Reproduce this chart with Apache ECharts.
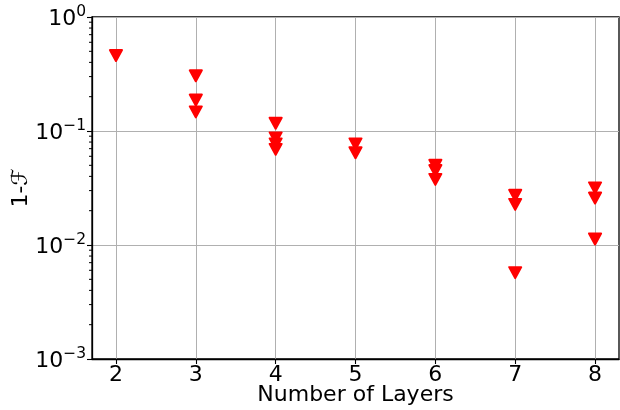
<!DOCTYPE html>
<html>
<head>
<meta charset="utf-8">
<script src="https://cdn.jsdelivr.net/npm/echarts@6/dist/echarts.min.js"></script>
<style>html,body{margin:0;padding:0;background:#fff}#c{width:620px;height:410px}</style>
</head>
<body>
<div id="c"></div>
<script>
// Data
const layers = [2, 3, 4, 5, 6, 7, 8];
const infidelity = {
  2: [0.459],
  3: [0.305, 0.187, 0.147],
  4: [0.117, 0.087, 0.077, 0.069],
  5: [0.077, 0.0645],
  6: [0.050, 0.045, 0.0376],
  7: [0.0273, 0.0227, 0.00572],
  8: [0.0317, 0.0258, 0.0113]
};
const xTicks = [2, 3, 4, 5, 6, 7, 8];
const yTicks = [0.001, 0.01, 0.1, 1];
const minorTickValues = [];
[0.001, 0.01, 0.1].forEach(function (d) {
  for (let k = 2; k <= 9; k++) minorTickValues.push(+(d * k).toPrecision(3));
});
const XMIN = 1.7, XMAX = 8.3;

const points = [];
layers.forEach(function (n) {
  infidelity[n].forEach(function (v) { points.push([n, v]); });
});

const chart = echarts.init(document.getElementById('c'), null, {renderer: 'canvas'});
const font = 'DejaVu Sans';
chart.setOption({
  animation: false,
  backgroundColor: '#fff',
  grid: {left: 92, right: 1, top: 17, bottom: 51, containLabel: false, outerBoundsMode: 'none',
         show: true, borderColor: '#000', borderWidth: 1.3, backgroundColor: 'transparent'},
  xAxis: {
    type: 'value', min: XMIN, max: XMAX,
    name: 'Number of Layers', nameLocation: 'middle', nameGap: 25, nameMoveOverlap: false,
    nameTextStyle: {fontFamily: font, fontSize: 22, color: '#000'},
    axisLine: {show: true, onZero: false, lineStyle: {color: '#000', width: 1.3}},
    axisTick: {show: true, length: 5, customValues: xTicks, lineStyle: {color: '#000', width: 1.1}},
    axisLabel: {customValues: xTicks, fontFamily: font, fontSize: 22, color: '#000', margin: 5},
    splitLine: {show: true, lineStyle: {color: '#b0b0b0', width: 1}}
  },
  yAxis: {
    type: 'log', logBase: 10, min: 0.001, max: 1,
    name: '1-ℱ', nameLocation: 'middle', nameGap: 60, nameRotate: 90, nameMoveOverlap: false,
    nameTextStyle: {fontFamily: font, fontSize: 22, color: '#000'},
    axisLine: {show: true, lineStyle: {color: '#000', width: 1.3}},
    axisTick: {show: true, length: 5, lineStyle: {color: '#000', width: 1.1}},
    splitLine: {show: true, lineStyle: {color: '#b0b0b0', width: 1}},
    axisLabel: {
      margin: 6,
      formatter: function (v) {
        const e = Math.round(Math.log10(v));
        return '{b|10}{s|' + (e < 0 ? '\u2212' + (-e) : e) + '}';
      },
      rich: {
        b: {fontFamily: font, fontSize: 22, color: '#000', lineHeight: 26, verticalAlign: 'bottom'},
        s: {fontFamily: font, fontSize: 15.5, color: '#000', lineHeight: 26, verticalAlign: 'top', padding: [0, 0, 8, 0]}
      }
    }
  },
  series: [
    {
      type: 'custom',
      silent: true,
      clip: false,
      data: minorTickValues.map(function (v) { return [XMIN, v]; }),
      renderItem: function (params, api) {
        const p = api.coord([api.value(0), api.value(1)]);
        return {type: 'line', shape: {x1: p[0] - 3, y1: p[1], x2: p[0], y2: p[1]}, style: {stroke: '#000', lineWidth: 1}};
      },
      z: 1
    },
    {
      type: 'scatter',
      data: points,
      symbol: 'triangle',
      symbolRotate: 180,
      symbolSize: [12, 11],
      itemStyle: {color: '#ff0000', borderColor: '#ff0000', borderWidth: 2, borderJoin: 'round', opacity: 1},
      z: 3
    }
  ]
});
</script>
</body>
</html>
